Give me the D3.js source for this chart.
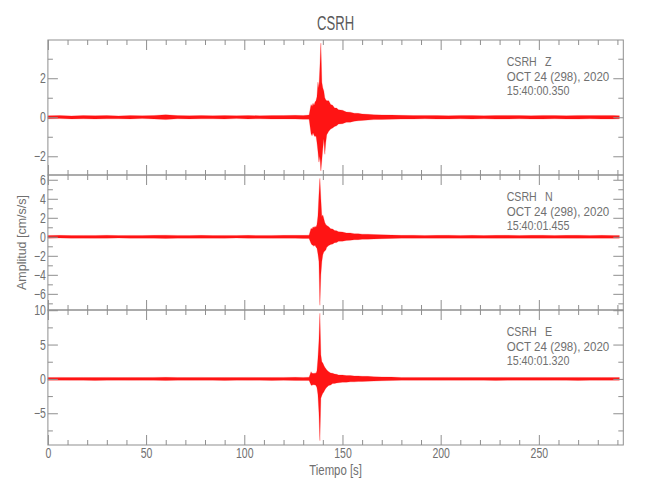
<!DOCTYPE html>
<html><head><meta charset="utf-8">
<script src="https://cdn.jsdelivr.net/npm/d3@7"></script>
<style>
html,body{margin:0;padding:0;background:#fff;}
text{font-family:"Liberation Sans",Arial,sans-serif;}
</style></head>
<body>
<svg id="chart" width="650" height="500"></svg>
<script>
// ---- data ----
const title = "CSRH";
const station = "CSRH";
const components = ["Z", "N", "E"];
const dateLine = "OCT 24 (298), 2020";
const startTimes = ["15:40:00.350", "15:40:01.455", "15:40:01.320"];
const xLabel = "Tiempo [s]";
const yLabel = "Amplitud [cm/s/s]";
const xDomain = [0, 293];
const xMajorTicks = [0, 50, 100, 150, 200, 250];
const xMinorTicks = [10,20,30,40,60,70,80,90,110,120,130,140,160,170,180,190,210,220,230,240,260,270,280,290];

const yDomains = [[-2.96, 3.96], [-7.7, 6.5], [-9.62, 10.03]];
const yMajorTicks = [[-2, 0, 2], [-6, -4, -2, 0, 2, 4, 6], [-5, 0, 5, 10]];
const yMinorTicks = [[-1, 1, 3], [-7, -5, -3, -1, 1, 3, 5], [-7.5, -2.5, 2.5, 7.5]];

// envelope of each trace (seconds, upper / lower amplitude in cm/s/s)
const times = [0,6,12,18,24,30,36,42,48,54,60,66,72,78,84,90,96,102,108,114,120,126,130,133,
  134,134.5,135,135.5,136,136.5,137,137.5,138,138.5,139,139.5,140,140.5,141,141.5,142,
  143,144,145,146,147,148,150,152,154,156,158,160,163,166,170,175,
  180,186,192,198,204,210,216,222,228,234,240,246,252,258,264,270,276,282,288,291];

const zUpper = [.08,.09,.07,.085,.08,.09,.07,.085,.08,.09,.13,.085,.08,.09,.08,.085,.08,.09,.08,.085,.09,.10,.09,.11,
  .65,.55,.72,.60,.78,.85,1.05,1.8,1.5,2.6,3.8,1.8,1.5,1.35,1.0,.9,.85,
  .85,.65,.62,.48,.47,.38,.36,.27,.26,.21,.2,.17,.15,.13,.12,.11,
  .10,.09,.095,.09,.08,.095,.09,.08,.09,.095,.09,.08,.095,.09,.08,.095,.09,.095,.09,.08];
const zLower = [-.08,-.07,-.085,-.08,-.09,-.08,-.08,-.085,-.07,-.085,-.12,-.08,-.085,-.08,-.08,-.09,-.07,-.085,-.08,-.09,-.085,-.09,-.10,-.10,
  -.85,-.95,-.80,-.92,-1.0,-.95,-1.3,-1.75,-2.3,-2.0,-2.75,-2.2,-1.6,-1.1,-1.9,-1.3,-.9,
  -.72,-.6,-.55,-.47,-.44,-.35,-.33,-.26,-.25,-.2,-.18,-.16,-.14,-.12,-.11,-.10,
  -.095,-.09,-.08,-.09,-.09,-.08,-.09,-.08,-.095,-.09,-.08,-.09,-.09,-.08,-.09,-.095,-.08,-.09,-.09,-.08];

const nUpper = [.14,.15,.13,.145,.14,.16,.13,.145,.14,.15,.17,.145,.14,.15,.13,.145,.14,.15,.14,.145,.15,.16,.15,.17,
  .9,.8,1.05,.95,1.1,1.0,1.3,2.2,4.4,6.15,4.0,2.1,2.3,1.9,1.5,1.3,1.2,
  1.05,.85,.82,.66,.64,.52,.5,.4,.4,.33,.33,.28,.27,.24,.21,.18,
  .15,.16,.14,.15,.16,.14,.15,.13,.15,.16,.14,.15,.16,.14,.15,.16,.14,.15,.14,.14];
const nLower = [-.14,-.13,-.15,-.14,-.16,-.14,-.13,-.15,-.14,-.15,-.17,-.14,-.15,-.14,-.14,-.16,-.13,-.15,-.14,-.16,-.15,-.16,-.17,-.17,
  -.7,-.85,-.9,-1.0,-.85,-1.1,-1.2,-1.8,-2.6,-7.2,-4.0,-2.6,-1.9,-1.6,-1.5,-1.4,-1.1,
  -.92,-.8,-.77,-.62,-.6,-.48,-.46,-.38,-.37,-.31,-.3,-.27,-.25,-.23,-.2,-.17,
  -.14,-.15,-.14,-.15,-.14,-.15,-.14,-.14,-.16,-.15,-.14,-.15,-.15,-.14,-.15,-.16,-.14,-.15,-.15,-.14];

const eUpper = [.20,.22,.19,.21,.20,.22,.19,.21,.20,.22,.23,.21,.20,.22,.19,.21,.20,.22,.20,.21,.22,.23,.22,.24,
  1.05,.8,.85,.75,.9,.8,1.2,3.0,5.5,9.56,3.5,2.5,2.3,2.0,1.7,1.5,1.3,
  1.05,.85,.82,.7,.67,.57,.56,.48,.49,.43,.43,.38,.37,.33,.29,.26,
  .21,.22,.20,.21,.22,.20,.21,.19,.21,.22,.20,.21,.22,.20,.21,.22,.20,.21,.20,.20];
const eLower = [-.20,-.19,-.21,-.20,-.22,-.20,-.19,-.21,-.20,-.21,-.23,-.20,-.21,-.20,-.20,-.22,-.19,-.21,-.20,-.22,-.21,-.22,-.23,-.23,
  -.9,-.95,-.8,-.9,-.85,-.95,-1.3,-2.3,-4.9,-9.0,-2.8,-2.4,-2.1,-1.9,-1.6,-1.4,-1.2,
  -.95,-.88,-.68,-.67,-.58,-.56,-.48,-.48,-.43,-.43,-.38,-.38,-.34,-.32,-.27,-.24,
  -.20,-.21,-.20,-.21,-.20,-.21,-.20,-.20,-.22,-.21,-.20,-.21,-.21,-.20,-.21,-.22,-.20,-.21,-.21,-.20];

const traces = [[zUpper, zLower], [nUpper, nLower], [eUpper, eLower]];

// ---- layout ----
const svg = d3.select("#chart");
const left = 47.9, right = 623.3, top0 = 40, panelH = 135;
const axisColor = "#8f8f8f", textColor = "#707070";
const x = d3.scaleLinear().domain(xDomain).range([left, right]);

// condense a text element to a given width (narrow vector-font look)
function fitWidth(sel, w) {
  sel.attr("textLength", w).attr("lengthAdjust", "spacingAndGlyphs");
}
function condense(sel, f) {
  sel.each(function () {
    const len = this.getComputedTextLength();
    if (len > 0) d3.select(this).attr("textLength", len * f).attr("lengthAdjust", "spacingAndGlyphs");
  });
}

svg.append("text").attr("x", (left + right) / 2).attr("y", 30)
  .attr("text-anchor", "middle").attr("font-size", 19.5).attr("fill", "#5a5a5a").text(title)
  .call(fitWidth, 37);

function styleAxis(g) {
  g.select(".domain").remove();
  g.selectAll("line").attr("stroke", axisColor);
  g.selectAll("text").attr("fill", textColor).attr("font-size", 14).call(condense, 0.75);
}

const fmt = d3.format("d");

components.forEach((comp, i) => {
  const pTop = top0 + i * panelH, pBot = pTop + panelH;
  const y = d3.scaleLinear().domain(yDomains[i]).range([pBot, pTop]);
  const g = svg.append("g");

  // trace envelope
  const [up, lo] = traces[i];
  const area = d3.area().x((d, k) => x(times[k])).y0((d, k) => y(lo[k])).y1((d, k) => y(up[k]));
  g.append("path").datum(times).attr("d", area)
    .attr("fill", "#ff0000").attr("fill-opacity", 0.92)
    .attr("stroke", "#ff0000").attr("stroke-opacity", 0.5).attr("stroke-width", 0.4).attr("stroke-linejoin", "round");

  // frame
  g.append("rect").attr("x", left).attr("y", pTop).attr("width", right - left).attr("height", panelH)
    .attr("fill", "none").attr("stroke", axisColor).attr("stroke-width", 1);

  // left axis
  g.append("g").attr("transform", `translate(${left},0)`)
    .call(d3.axisLeft(y).tickValues(yMajorTicks[i]).tickSize(-10).tickPadding(2).tickFormat(fmt)).call(styleAxis);
  g.append("g").attr("transform", `translate(${left},0)`)
    .call(d3.axisLeft(y).tickValues(yMinorTicks[i]).tickSize(-5).tickFormat("")).call(styleAxis);
  // right axis
  g.append("g").attr("transform", `translate(${right},0)`)
    .call(d3.axisRight(y).tickValues(yMajorTicks[i]).tickSize(-10).tickFormat("")).call(styleAxis);
  g.append("g").attr("transform", `translate(${right},0)`)
    .call(d3.axisRight(y).tickValues(yMinorTicks[i]).tickSize(-5).tickFormat("")).call(styleAxis);
  // top axis
  g.append("g").attr("transform", `translate(0,${pTop})`)
    .call(d3.axisTop(x).tickValues(xMajorTicks).tickSize(-10).tickFormat("")).call(styleAxis);
  g.append("g").attr("transform", `translate(0,${pTop})`)
    .call(d3.axisTop(x).tickValues(xMinorTicks).tickSize(-5).tickFormat("")).call(styleAxis);
  // bottom axis
  const last = i === components.length - 1;
  g.append("g").attr("transform", `translate(0,${pBot})`)
    .call(d3.axisBottom(x).tickValues(xMajorTicks).tickSize(-10).tickPadding(3.5).tickFormat(last ? fmt : ""))
    .call(styleAxis);
  g.append("g").attr("transform", `translate(0,${pBot})`)
    .call(d3.axisBottom(x).tickValues(xMinorTicks).tickSize(-5).tickFormat("")).call(styleAxis);

  // info text
  const info = g.append("g").attr("fill", textColor).attr("font-size", 13.3);
  info.append("text").attr("x", 506.7).attr("y", pTop + 26).text(station).call(fitWidth, 30);
  info.append("text").attr("x", 545).attr("y", pTop + 26).text(comp).call(condense, 0.8);
  info.append("text").attr("x", 506.7).attr("y", pTop + 40.5).text(dateLine).call(fitWidth, 102.6);
  info.append("text").attr("x", 506.7).attr("y", pTop + 55).text(startTimes[i]).call(fitWidth, 62.7);
});

svg.append("text").attr("x", (left + right) / 2).attr("y", 475).attr("text-anchor", "middle")
  .attr("font-size", 14).attr("fill", textColor).text(xLabel).call(fitWidth, 52.7);
svg.append("text").attr("transform", `translate(26,${top0 + 1.5 * panelH}) rotate(-90)`)
  .attr("text-anchor", "middle").attr("font-size", 13).attr("fill", textColor).text(yLabel).call(fitWidth, 95);
</script>
</body></html>
